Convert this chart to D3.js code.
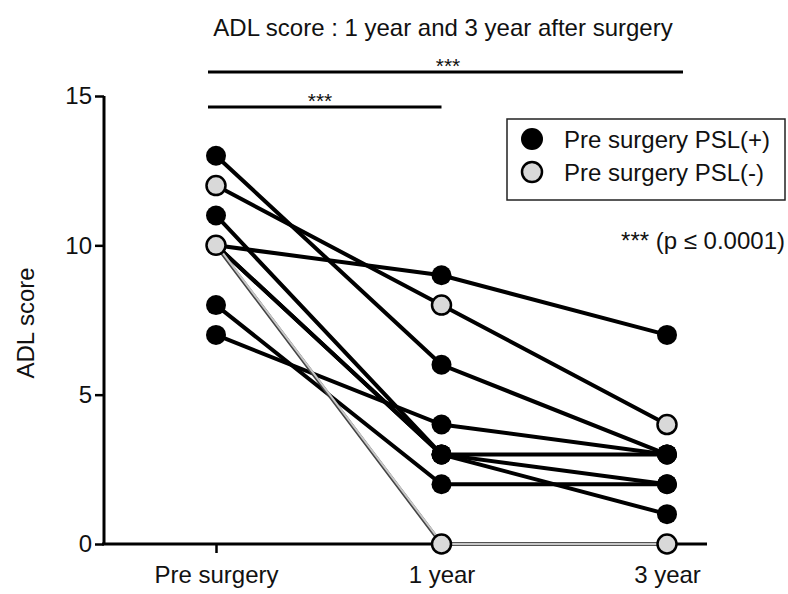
<!DOCTYPE html>
<html>
<head>
<meta charset="utf-8">
<script src="https://cdn.jsdelivr.net/npm/d3@7"></script>
<style>
  body { margin: 0; background: #fff; }
  text { font-family: "Liberation Sans", Arial, sans-serif; fill: #111; }
</style>
</head>
<body>
<div id="chart"></div>
<script>
// time points
var timepoints = ["Pre surgery", "1 year", "3 year"];
// one row per patient: scores at pre, 1 year, 3 year
var scores = [
  [13, 6, 3],
  [12, 8, 4],
  [11, 3, 1],
  [10, 9, 7],
  [10, 3, 3],
  [10, 3, 2],
  [8, 2, 2],
  [7, 4, 3],
  [10, 0, 0]
];
// pre surgery PSL status per patient (true = PSL(+))
var pslPositive = [true, false, true, true, true, true, true, true, false];
var yTicks = [0, 5, 10, 15];
var legendLabels = ["Pre surgery PSL(+)", "Pre surgery PSL(-)"];
var brackets = [
  {from: "Pre surgery", to: "3 year", label: "***"},
  {from: "Pre surgery", to: "1 year", label: "***"}
];

var width = 788, height = 594;
var svg = d3.select("#chart").append("svg")
    .attr("width", width)
    .attr("height", height);

var x = d3.scalePoint().domain(timepoints).range([216, 667]);
var y = d3.scaleLinear().domain([0, 15]).range([544, 96]);

// title
svg.append("text")
    .attr("x", 443).attr("y", 36)
    .attr("text-anchor", "middle")
    .style("font-size", "24px")
    .text("ADL score : 1 year and 3 year after surgery");

// y axis
var yAxis = svg.append("g")
    .attr("transform", "translate(104,0)")
    .call(d3.axisLeft(y).tickValues(yTicks).tickSize(9).tickPadding(3));
yAxis.select(".domain").attr("stroke-width", 3).attr("d", "M0," + y(15) + "V" + y(0));
yAxis.selectAll(".tick line").attr("stroke-width", 2.5);
yAxis.selectAll(".tick text").style("font-size", "24px")
    .style("font-family", "'Liberation Sans', Arial, sans-serif").attr("fill", "#111");

// x axis
var xAxis = svg.append("g")
    .attr("transform", "translate(0," + y(0) + ")")
    .call(d3.axisBottom(x).tickSize(9).tickPadding(13));
xAxis.select(".domain").attr("stroke-width", 3).attr("d", "M102,0H707");
xAxis.selectAll(".tick line").attr("stroke-width", 2.5);
xAxis.selectAll(".tick text").style("font-size", "24px")
    .style("font-family", "'Liberation Sans', Arial, sans-serif").attr("fill", "#111");

// y label
svg.append("text")
    .attr("transform", "translate(34," + y(7.4) + ") rotate(-90)")
    .attr("text-anchor", "middle")
    .style("font-size", "24px")
    .text("ADL score");

// significance brackets
brackets.forEach(function(b, i) {
    var by = i === 0 ? 72 : 107;
    svg.append("line")
        .attr("x1", x(b.from) - 8).attr("x2", b.to === "3 year" ? x(b.to) + 16 : x(b.to))
        .attr("y1", by).attr("y2", by)
        .attr("stroke", "#000").attr("stroke-width", 3);
    svg.append("text")
        .attr("x", i === 0 ? 448 : 320).attr("y", by + 1)
        .attr("text-anchor", "middle")
        .style("font-size", "21px")
        .text(b.label);
});

var line = d3.line()
    .x(function(d, i) { return x(timepoints[i]); })
    .y(function(d) { return y(d); });

// patient lines
var patients = scores.map(function(s, i) { return {values: s, pos: pslPositive[i], idx: i}; });

svg.append("g").selectAll("path.black")
    .data(patients.filter(function(p) { return p.idx !== 8; }))
    .enter().append("path")
    .attr("d", function(d) { return line(d.values); })
    .attr("fill", "none")
    .attr("stroke", "#000")
    .attr("stroke-width", 4);

// the PSL(-) patient dropping to zero is drawn as a grey line
var greyP = patients[8];
svg.append("path")
    .attr("d", line(greyP.values))
    .attr("fill", "none").attr("stroke", "#444").attr("stroke-width", 3.5);
svg.append("path")
    .attr("d", line(greyP.values))
    .attr("transform", "translate(1,0)")
    .attr("fill", "none").attr("stroke", "#c8c8c8").attr("stroke-width", 2);

// points
var pts = [];
patients.forEach(function(p) {
    p.values.forEach(function(v, i) { pts.push({t: timepoints[i], v: v, pos: p.pos}); });
});
pts.sort(function(a, b) { return (b.pos ? 1 : 0) - (a.pos ? 1 : 0); });

svg.append("g").selectAll("circle")
    .data(pts)
    .enter().append("circle")
    .attr("cx", function(d) { return x(d.t); })
    .attr("cy", function(d) { return y(d.v); })
    .attr("r", function(d) { return d.pos ? 10 : 9.5; })
    .attr("fill", function(d) { return d.pos ? "#000" : "#d9d9d9"; })
    .attr("stroke", "#000")
    .attr("stroke-width", function(d) { return d.pos ? 0 : 2.5; });

// legend
var legend = svg.append("g");
legend.append("rect")
    .attr("x", 507).attr("y", 119)
    .attr("width", 278).attr("height", 81)
    .attr("fill", "#fff").attr("stroke", "#222").attr("stroke-width", 1.5);
legendLabels.forEach(function(lbl, i) {
    var ly = 139 + i * 33;
    legend.append("circle")
        .attr("cx", 532).attr("cy", ly)
        .attr("r", i === 0 ? 11 : 10)
        .attr("fill", i === 0 ? "#000" : "#d9d9d9")
        .attr("stroke", "#000").attr("stroke-width", i === 0 ? 0 : 2.5);
    legend.append("text")
        .attr("x", 564).attr("y", ly + 9)
        .style("font-size", "24px")
        .text(lbl);
});

svg.append("text")
    .attr("x", 785).attr("y", 249)
    .attr("text-anchor", "end")
    .style("font-size", "24px")
    .text("*** (p \u2264 0.0001)");
</script>
</body>
</html>
